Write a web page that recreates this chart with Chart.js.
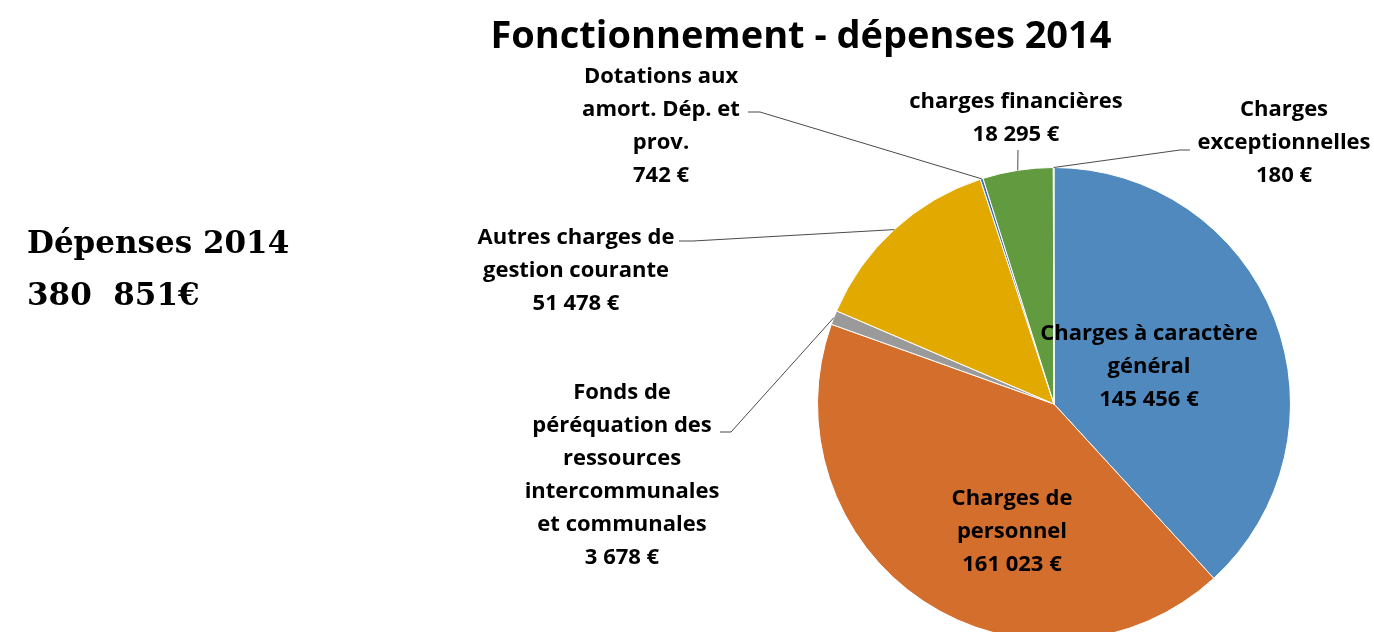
<!DOCTYPE html>
<html lang="fr">
<head>
    <meta charset="UTF-8">
    <title>Fonctionnement - dépenses 2014</title>
    <script src="https://cdn.jsdelivr.net/npm/chart.js"></script>
    <style>
        body {
            background-color: white;
            margin: 0;
            overflow: hidden;
        }
        .chart-container {
            width: 1374px;
            height: 650px;
            position: relative;
        }
    </style>
</head>
<body>
    <div class="chart-container">
        <canvas id="pieChart"></canvas>
    </div>

    <script>
        // données
        const categories = [
            ['Charges à caractère', 'général'],
            ['Charges de', 'personnel'],
            ['Fonds de', 'péréquation des', 'ressources', 'intercommunales', 'et communales'],
            ['Autres charges de', 'gestion courante'],
            ['Dotations aux', 'amort. Dép. et', 'prov.'],
            ['charges financières'],
            ['Charges', 'exceptionnelles']
        ];
        const values = [145456, 161023, 3678, 51478, 742, 18295, 180];
        const colors = ['#4F89BE', '#D46E2C', '#9A9A9A', '#E2AA00', '#3E6FB6', '#629A3F', '#C4CFDD'];

        const titleText = 'Fonctionnement - dépenses 2014';
        const sideText = ['Dépenses 2014', '380  851€'];

        // position des étiquettes (centre x, y de la 1re ligne, point d'accroche du trait)
        const labelPlace = [
            { x: 1149, y: 334 },
            { x: 1012, y: 499 },
            { x: 622, y: 393, anchor: [720, 432], elbow: [731, 432] },
            { x: 576, y: 238, anchor: [679, 241], elbow: [693, 241] },
            { x: 661, y: 77, anchor: [748, 112], elbow: [760, 112] },
            { x: 1016, y: 102, anchor: [1018, 150], elbow: [1018, 150] },
            { x: 1284, y: 110, anchor: [1190, 150], elbow: [1180, 150] }
        ];
        const lineStep = 33;

        function euros(v) {
            return String(v).replace(/\B(?=(\d{3})+(?!\d))/g, ' ') + ' €';
        }

        const labelsPlugin = {
            id: 'labelsPlugin',
            afterDraw(chart) {
                const ctx = chart.ctx;
                const arcs = chart.getDatasetMeta(0).data;
                ctx.save();

                // titre
                ctx.fillStyle = '#000';
                ctx.textAlign = 'center';
                ctx.textBaseline = 'middle';
                ctx.font = 'bold 38px "Open Sans"';
                ctx.fillText(titleText, 801, 37);

                // texte de gauche
                ctx.textAlign = 'left';
                ctx.textBaseline = 'alphabetic';
                ctx.font = 'bold 31px "DejaVu Serif"';
                ctx.fillText(sideText[0], 27, 253);
                ctx.fillText(sideText[1], 27, 305);

                // traits de rappel
                ctx.strokeStyle = '#4a4a4a';
                ctx.lineWidth = 1;
                arcs.forEach((arc, i) => {
                    const p = labelPlace[i];
                    if (!p.anchor) return;
                    const mid = (arc.startAngle + arc.endAngle) / 2;
                    const ex = arc.x + Math.cos(mid) * arc.outerRadius;
                    const ey = arc.y + Math.sin(mid) * arc.outerRadius;
                    ctx.beginPath();
                    ctx.moveTo(ex, ey);
                    ctx.lineTo(p.elbow[0], p.elbow[1]);
                    ctx.lineTo(p.anchor[0], p.anchor[1]);
                    ctx.stroke();
                });

                // étiquettes
                ctx.textAlign = 'center';
                ctx.textBaseline = 'middle';
                ctx.font = 'bold 22px "Open Sans"';
                categories.forEach((lines, i) => {
                    const p = labelPlace[i];
                    const all = lines.concat([euros(values[i])]);
                    all.forEach((t, k) => ctx.fillText(t, p.x, p.y + k * lineStep));
                });
                ctx.restore();
            }
        };

        const ctx = document.getElementById('pieChart').getContext('2d');
        new Chart(ctx, {
            type: 'pie',
            data: {
                labels: categories.map(c => c.join(' ')),
                datasets: [{
                    data: values,
                    backgroundColor: colors,
                    borderColor: '#ffffff',
                    borderWidth: 1
                }]
            },
            options: {
                responsive: true,
                maintainAspectRatio: false,
                animation: false,
                layout: {
                    padding: { left: 817, right: 83, top: 167, bottom: 9 }
                },
                plugins: {
                    legend: { display: false },
                    tooltip: { enabled: false }
                }
            },
            plugins: [labelsPlugin]
        });
    </script>
</body>
</html>
